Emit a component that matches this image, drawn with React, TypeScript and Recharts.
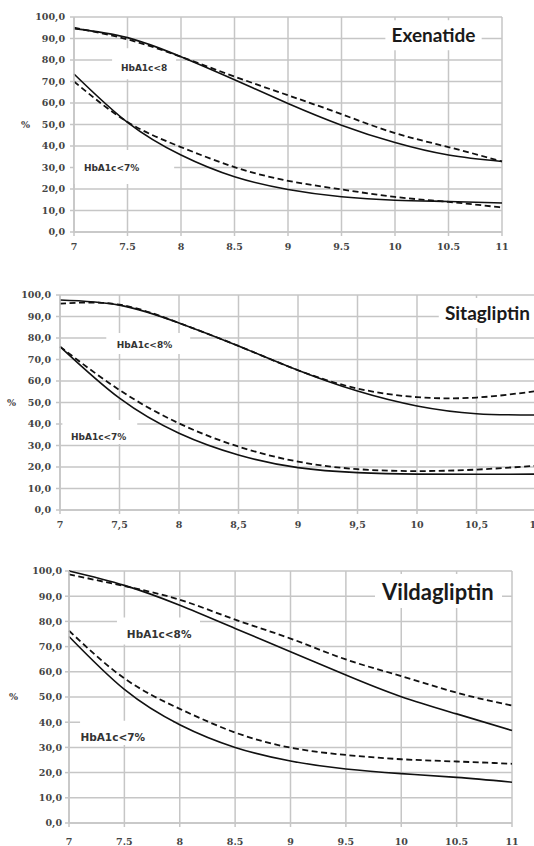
import React from 'react';
import {
  LineChart,
  Line,
  XAxis,
  YAxis,
  CartesianGrid,
  ReferenceArea,
  ReferenceDot,
} from 'recharts';

// HbA1c baseline (x axis categories)
const hba1cBaseline = [7, 7.5, 8, 8.5, 9, 9.5, 10, 10.5, 11];
const yTickValues = [0, 10, 20, 30, 40, 50, 60, 70, 80, 90, 100];

// Exenatide
const exenatideLt8Solid = [94.6, 90.4, 81.5, 70.8, 59.8, 49.7, 41.6, 35.8, 32.8];
const exenatideLt8Dashed = [95.0, 89.6, 81.5, 72.3, 63.6, 54.8, 46.0, 39.5, 32.8];
const exenatideLt7Solid = [73.5, 51.0, 35.8, 25.7, 19.8, 16.4, 14.8, 14.2, 13.5];
const exenatideLt7Dashed = [70.0, 51.2, 39.5, 30.2, 23.8, 19.8, 16.3, 14.0, 11.4];

// Sitagliptin
const sitagliptinLt8Solid = [97.7, 95.3, 87.0, 76.3, 65.0, 55.3, 48.4, 44.8, 44.2];
const sitagliptinLt8Dashed = [96.0, 95.5, 87.0, 76.3, 65.0, 56.5, 52.5, 52.3, 55.3];
const sitagliptinLt7Solid = [76.0, 52.0, 35.7, 25.6, 19.7, 17.4, 16.7, 16.6, 16.7];
const sitagliptinLt7Dashed = [76.0, 55.8, 40.3, 29.5, 22.5, 19.0, 18.1, 18.8, 20.6];

// Vildagliptin
const vildagliptinLt8Solid = [100.0, 94.3, 86.4, 77.2, 68.0, 58.7, 50.1, 43.3, 36.7];
const vildagliptinLt8Dashed = [98.7, 94.0, 88.6, 80.7, 73.2, 64.9, 58.3, 51.7, 46.6];
const vildagliptinLt7Solid = [74.0, 53.0, 39.0, 30.0, 24.6, 21.4, 19.6, 18.1, 16.2];
const vildagliptinLt7Dashed = [76.3, 57.4, 45.3, 35.9, 29.9, 27.0, 25.3, 24.4, 23.5];

const buildRows = (s8: number[], d8: number[], s7: number[], d7: number[]) =>
  hba1cBaseline.map((x, i) => ({ x, s8: s8[i], d8: d8[i], s7: s7[i], d7: d7[i] }));

type Note = {
  text: string;
  at: [number, number];
  box: [number, number, number, number];
  size: number;
  family: string;
  weight: number;
  color: string;
};

type PanelProps = {
  rows: any[];
  top: number;
  width: number;
  height: number;
  yAxisWidth: number;
  marginRight: number;
  xTickMargin: number;
  yTickMargin: number;
  percentOffset: number;
  decimalComma: boolean;
  notes: Note[];
};

const GRID = '#c6c6c6';
const tickStyle = { fontSize: 9.5, fontFamily: 'DejaVu Serif', fontWeight: 700, fill: '#444' };

const Panel = (p: PanelProps) => {
  const fmtX = (v: number) => (p.decimalComma ? String(v).replace('.', ',') : String(v));
  const fmtY = (v: number) => v.toFixed(1).replace('.', ',');
  return (
    <div style={{ position: 'absolute', left: 0, top: p.top }}>
      <LineChart
        width={p.width}
        height={p.height}
        data={p.rows}
        margin={{ top: 17, right: p.marginRight, bottom: 0, left: 0 }}
      >
        <CartesianGrid stroke={GRID} strokeWidth={1.5} />
        <XAxis
          dataKey="x"
          type="number"
          domain={[7, 11]}
          ticks={hba1cBaseline}
          interval={0}
          tickFormatter={fmtX}
          tick={tickStyle}
          tickSize={4}
          tickMargin={p.xTickMargin}
          height={28}
          stroke={GRID}
          strokeWidth={1.5}
        />
        <YAxis
          type="number"
          domain={[0, 100]}
          ticks={yTickValues}
          interval={0}
          tickFormatter={fmtY}
          tick={tickStyle}
          tickSize={4}
          tickMargin={p.yTickMargin}
          width={p.yAxisWidth}
          stroke={GRID}
          strokeWidth={1.5}
          label={{
            value: '%',
            position: 'insideLeft',
            offset: p.percentOffset,
            fill: '#444',
            fontSize: 9.5,
            fontFamily: 'DejaVu Serif',
            fontWeight: 700,
          }}
        />
        {p.notes.map((n, i) => (
          <ReferenceArea
            key={'a' + i}
            x1={n.box[0]}
            x2={n.box[1]}
            y1={n.box[2]}
            y2={n.box[3]}
            fill="#ffffff"
            fillOpacity={1}
            stroke="none"
            ifOverflow="visible"
          />
        ))}
        <Line type="natural" dataKey="s8" stroke="#111" strokeWidth={1.6} dot={false} isAnimationActive={false} />
        <Line type="natural" dataKey="d8" stroke="#111" strokeWidth={1.8} strokeDasharray="6 3.5" dot={false} isAnimationActive={false} />
        <Line type="natural" dataKey="s7" stroke="#111" strokeWidth={1.6} dot={false} isAnimationActive={false} />
        <Line type="natural" dataKey="d7" stroke="#111" strokeWidth={1.8} strokeDasharray="6 3.5" dot={false} isAnimationActive={false} />
        {p.notes.map((n, i) => (
          <ReferenceDot
            key={'d' + i}
            x={n.at[0]}
            y={n.at[1]}
            r={1}
            fill="none"
            stroke="none"
            ifOverflow="visible"
            label={{
              value: n.text,
              position: 'center',
              fill: n.color,
              fontSize: n.size,
              fontFamily: n.family,
              fontWeight: n.weight,
            }}
          />
        ))}
      </LineChart>
    </div>
  );
};

const titleFont = 'Lato';
const labelFont = 'DejaVu Sans';

export default function App() {
  return (
    <div
      style={{
        position: 'absolute',
        left: 0,
        top: 0,
        width: 534,
        height: 846,
        overflow: 'hidden',
        background: '#fff',
      }}
    >
      <Panel
        rows={buildRows(exenatideLt8Solid, exenatideLt8Dashed, exenatideLt7Solid, exenatideLt7Dashed)}
        top={0}
        width={534}
        height={260}
        yAxisWidth={74}
        marginRight={32}
        xTickMargin={7}
        yTickMargin={5}
        percentOffset={21}
        decimalComma={false}
        notes={[
          { text: 'Exenatide', at: [10.36, 91.5], box: [9.91, 10.81, 84.5, 98.5], size: 19, family: titleFont, weight: 700, color: '#1a1a1a' },
          { text: 'HbA1c<8', at: [7.655, 76.2], box: [7.356, 7.954, 71.1, 85.5], size: 9, family: labelFont, weight: 700, color: '#333' },
          { text: 'HbA1c<7%', at: [7.351, 29.7], box: [7.0, 7.936, 22.3, 38.1], size: 9, family: labelFont, weight: 700, color: '#333' },
        ]}
      />
      <Panel
        rows={buildRows(sitagliptinLt8Solid, sitagliptinLt8Dashed, sitagliptinLt7Solid, sitagliptinLt7Dashed)}
        top={278}
        width={560}
        height={260}
        yAxisWidth={60}
        marginRight={24}
        xTickMargin={7}
        yTickMargin={5}
        percentOffset={7}
        decimalComma={true}
        notes={[
          { text: 'Sitagliptin', at: [10.592, 91.6], box: [10.183, 11.03, 84.7, 98.6], size: 19, family: titleFont, weight: 700, color: '#1a1a1a' },
          { text: 'HbA1c<8%', at: [7.71, 76.7], box: [7.389, 8.094, 72.6, 82.3], size: 9, family: labelFont, weight: 700, color: '#333' },
          { text: 'HbA1c<7%', at: [7.325, 34.1], box: [7.02, 7.649, 30.7, 41.9], size: 9, family: labelFont, weight: 700, color: '#333' },
        ]}
      />
      <Panel
        rows={buildRows(vildagliptinLt8Solid, vildagliptinLt8Dashed, vildagliptinLt7Solid, vildagliptinLt7Dashed)}
        top={554}
        width={534}
        height={297}
        yAxisWidth={69}
        marginRight={22}
        xTickMargin={11}
        yTickMargin={3}
        percentOffset={9}
        decimalComma={false}
        notes={[
          { text: 'Vildagliptin', at: [10.33, 91.7], box: [9.763, 10.91, 85.3, 98.8], size: 22, family: titleFont, weight: 700, color: '#1a1a1a' },
          { text: 'HbA1c<8%', at: [7.814, 75.0], box: [7.433, 8.183, 70.8, 81.5], size: 10.5, family: labelFont, weight: 700, color: '#333' },
          { text: 'HbA1c<7%', at: [7.395, 34.2], box: [7.1, 7.939, 31.0, 40.6], size: 10.5, family: labelFont, weight: 700, color: '#333' },
        ]}
      />
    </div>
  );
}
